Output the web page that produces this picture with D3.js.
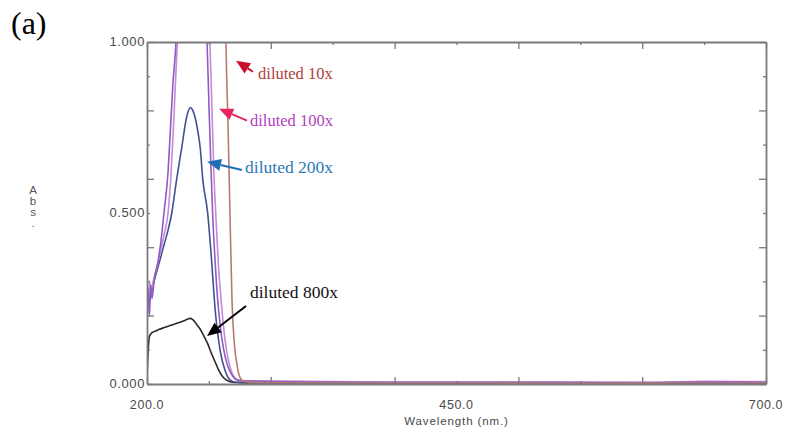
<!DOCTYPE html>
<html>
<head>
<meta charset="utf-8">
<script src="https://cdn.jsdelivr.net/npm/d3@7"></script>
<style>
  body { margin: 0; background: #fff; }
  svg { display: block; }
</style>
</head>
<body>
<div id="chart"></div>
<script>
// wavelength (nm) / absorbance pairs
const wl10 = [200, 262, 263.8, 265.5, 267, 268.7, 270.5, 272.5, 275, 278, 290, 350, 450, 550, 650, 700];
const abs10 = [1.6, 1.6, 1.0, 0.75, 0.5, 0.24, 0.12, 0.06, 0.02, 0.008, 0.004, 0.003, 0.003, 0.002, 0.003, 0.003];

const wl100a = [200, 201, 202, 203, 204, 206, 209, 212, 213.7, 217, 219, 221, 223.4, 224.5, 247, 248.5, 250, 251.5, 253, 255, 257, 259.5, 262, 265, 268, 271, 275, 290, 330, 400, 500, 600, 650, 700];
const abs100a = [0.22, 0.28, 0.2, 0.29, 0.25, 0.31, 0.36, 0.44, 0.5, 0.62, 0.75, 0.88, 1.0, 1.1, 1.1, 1.0, 0.82, 0.65, 0.5, 0.36, 0.25, 0.16, 0.1, 0.055, 0.03, 0.015, 0.01, 0.008, 0.006, 0.005, 0.005, 0.004, 0.006, 0.005];

const wl100b = [200, 201, 202, 203, 205, 208, 211, 214, 217, 219.5, 222, 224.5, 226, 249, 250.8, 252.5, 254, 255.5, 257.5, 260, 263, 266, 269, 272, 276, 290, 330, 400, 500, 600, 650, 700];
const abs100b = [0.26, 0.21, 0.3, 0.27, 0.3, 0.34, 0.39, 0.44, 0.5, 0.62, 0.8, 1.0, 1.1, 1.1, 1.0, 0.8, 0.62, 0.5, 0.36, 0.24, 0.13, 0.065, 0.03, 0.015, 0.01, 0.009, 0.008, 0.006, 0.006, 0.005, 0.008, 0.007];

const wl200 = [200, 202, 205, 208, 211, 214, 217, 220, 224, 228, 232, 235, 238, 241, 243, 245, 249, 252, 255, 259, 263, 267, 272, 300, 400, 500, 600, 700];
const abs200 = [0.2, 0.24, 0.29, 0.33, 0.37, 0.41, 0.45, 0.5, 0.6, 0.69, 0.78, 0.808, 0.79, 0.74, 0.69, 0.6, 0.5, 0.37, 0.22, 0.1, 0.04, 0.012, 0.005, 0.004, 0.003, 0.003, 0.003, 0.003];

const wl800 = [200, 201, 202, 204, 207, 210, 214, 218, 222, 226, 230, 233, 235, 237, 240, 243, 246, 249, 252, 255, 258, 261, 264, 268, 275, 300, 400, 500, 600, 700];
const abs800 = [0.02, 0.1, 0.14, 0.15, 0.155, 0.16, 0.165, 0.17, 0.175, 0.18, 0.185, 0.19, 0.192, 0.188, 0.175, 0.16, 0.14, 0.118, 0.09, 0.065, 0.04, 0.022, 0.012, 0.006, 0.004, 0.003, 0.002, 0.002, 0.002, 0.002];

// annotation labels, anchored in data units (text start, arrow tail, arrow tip)
const labelNames = ["diluted 10x", "diluted 100x", "diluted 200x", "diluted 800x"];
const labelAt = [[289.7, 0.893], [283.2, 0.755], [279.2, 0.618], [283.2, 0.252]];
const arrowTail = [[285.6, 0.913], [280.8, 0.77], [276.7, 0.626], [280, 0.228]];
const arrowTip = [[271.9, 0.945], [258.2, 0.805], [248.5, 0.65], [248.5, 0.14]];

const xMajor = [200, 300, 400, 500, 600, 700];
const xMinor = [250, 350, 450, 550, 650];
const xLabels = [200, 450, 700];
const yMajor = [0, 0.2, 0.4, 0.6, 0.8, 1.0];
const yMinor = [0.1, 0.3, 0.5, 0.7, 0.9];
const yLabels = [0, 0.5, 1.0];

const W = 791, H = 436;
const svg = d3.select('#chart').append('svg').attr('width', W).attr('height', H);

const x = d3.scaleLinear().domain([200, 700]).range([147, 766]);
const y = d3.scaleLinear().domain([0, 1]).range([384, 42]);

svg.append('defs').append('clipPath').attr('id', 'plot')
  .append('rect').attr('x', 147).attr('y', 42).attr('width', 619).attr('height', 342);

// curves
const series = [
  { wl: wl800, abs: abs800, color: '#2a2a2a' },
  { wl: wl200, abs: abs200, color: '#43508f' },
  { wl: wl100b, abs: abs100b, color: '#c68bd2' },
  { wl: wl100a, abs: abs100a, color: '#8f5cc6' },
  { wl: wl10, abs: abs10, color: '#b77a72' }
];
const line = d3.line().x(d => x(d[0])).y(d => y(d[1])).curve(d3.curveMonotoneX);
svg.append('g').attr('clip-path', 'url(#plot)')
  .selectAll('path').data(series).enter().append('path')
  .attr('d', s => line(d3.zip(s.wl, s.abs)))
  .attr('fill', 'none')
  .attr('stroke', s => s.color)
  .attr('stroke-width', 1.6);

// frame + inward ticks
const frameColor = '#7a7a7a';
function styleAxis(g, keepDomain) {
  g.selectAll('.tick line').attr('stroke', frameColor).attr('stroke-width', 1.3);
  g.select('.domain').attr('stroke', keepDomain ? frameColor : 'none').attr('stroke-width', 1.8);
  g.selectAll('text').remove();
}
const ax = [
  [d3.axisBottom(x), 'translate(0,384)', xMajor, xMinor],
  [d3.axisTop(x), 'translate(0,42)', xMajor, xMinor],
  [d3.axisLeft(y), 'translate(147,0)', yMajor, yMinor],
  [d3.axisRight(y), 'translate(766,0)', yMajor, yMinor]
];
ax.forEach(([a, t, major, minor]) => {
  svg.append('g').attr('transform', t)
    .call(a.tickValues(major).tickSizeOuter(0).tickSizeInner(-7))
    .call(g => styleAxis(g, true));
  svg.append('g').attr('transform', t)
    .call(a.tickValues(minor).tickSizeOuter(0).tickSizeInner(-3))
    .call(g => styleAxis(g, false));
});

const tickFont = '"Liberation Sans", Arial, sans-serif';
svg.append('g').selectAll('text').data(xLabels).enter().append('text')
  .attr('x', d => x(d)).attr('y', 409)
  .attr('text-anchor', 'middle')
  .attr('font-family', tickFont).attr('font-size', 12.5).attr('letter-spacing', 0.6)
  .attr('fill', '#4a4a4a')
  .text(d => d3.format('.1f')(d));

svg.append('g').selectAll('text').data(yLabels).enter().append('text')
  .attr('x', 145).attr('y', d => y(d) + 4)
  .attr('text-anchor', 'end')
  .attr('font-family', tickFont).attr('font-size', 13).attr('letter-spacing', 0.6)
  .attr('fill', '#4a4a4a')
  .text(d => d3.format('.3f')(d));

svg.append('text')
  .attr('x', x(450)).attr('y', 425)
  .attr('text-anchor', 'middle')
  .attr('font-family', tickFont).attr('font-size', 11.5).attr('letter-spacing', 0.9)
  .attr('fill', '#4a4a4a')
  .text('Wavelength (nm.)');

svg.append('g').selectAll('text').data(['A', 'b', 's', '.']).enter().append('text')
  .attr('x', 33).attr('y', (d, i) => 194 + i * 11)
  .attr('text-anchor', 'middle')
  .attr('font-family', tickFont).attr('font-size', 11.5)
  .attr('fill', '#555')
  .text(d => d);

svg.append('text')
  .attr('x', 11).attr('y', 34)
  .attr('font-family', '"Liberation Serif", "Times New Roman", serif')
  .attr('font-size', 32)
  .text('(a)');

// annotations
const labelColors = ['#b0403c', '#b23fbf', '#2b79b6', '#111111'];
const headColors = ['#c8102e', '#e6245e', '#1f6fb5', '#000000'];
const labelSizes = [16.5, 16.5, 17.5, 17.5];
const ann = svg.append('g');
labelNames.forEach((name, i) => {
  const tx = x(arrowTail[i][0]), ty = y(arrowTail[i][1]);
  const px = x(arrowTip[i][0]), py = y(arrowTip[i][1]);
  const ang = Math.atan2(py - ty, px - tx);
  const len = 14, half = 6;
  const bx = px - len * Math.cos(ang), by = py - len * Math.sin(ang);
  ann.append('line')
    .attr('x1', tx).attr('y1', ty).attr('x2', bx).attr('y2', by)
    .attr('stroke', headColors[i]).attr('stroke-width', 2);
  const pts = [
    [px, py],
    [bx + half * Math.sin(ang), by - half * Math.cos(ang)],
    [bx - half * Math.sin(ang), by + half * Math.cos(ang)]
  ];
  ann.append('polygon').attr('points', pts.map(p => p.join(',')).join(' '))
    .attr('fill', headColors[i]);
  ann.append('text')
    .attr('x', x(labelAt[i][0])).attr('y', y(labelAt[i][1]))
    .attr('font-family', '"Liberation Serif", "Times New Roman", serif')
    .attr('font-size', labelSizes[i])
    .attr('fill', labelColors[i])
    .text(name);
});
</script>
</body>
</html>
